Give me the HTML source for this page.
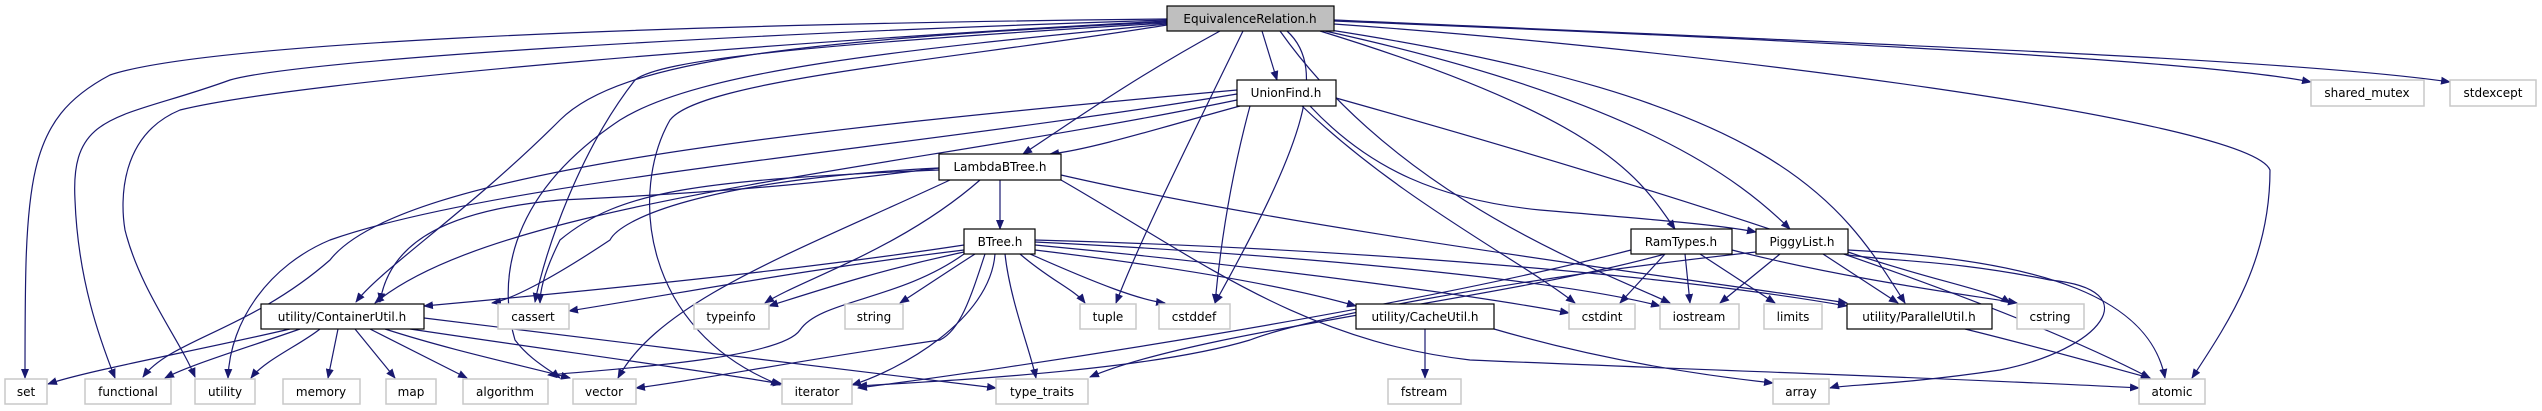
<!DOCTYPE html>
<html><head><meta charset="utf-8"><style>
html,body{margin:0;padding:0;background:#fff;}
svg{display:block;}
text{font-family:"DejaVu Sans","Liberation Sans",sans-serif;font-size:12px;fill:#000;text-anchor:middle;}
.e{fill:none;stroke:#191970;stroke-width:1.2;marker-end:url(#a);}
.g{fill:#fff;stroke:#c8c8c8;stroke-width:1.5;}
.p{fill:#fff;stroke:#000;stroke-width:1.2;}
</style></head><body>
<svg width="2542" height="411" viewBox="0 0 2542 411" xmlns="http://www.w3.org/2000/svg">
<defs><marker id="a" markerWidth="10" markerHeight="8" refX="9" refY="4" orient="auto" markerUnits="userSpaceOnUse"><path d="M0,0 L10,4 L0,8 z" fill="#191970"/></marker></defs>
<g>
<!-- EquivalenceRelation edges -->
<path class="e" d="M1167,19 C600,25 200,45 110,75 C25,120 25,180 25,378"/>
<path class="e" d="M1167,20 C700,35 300,60 230,80 C120,120 70,110 75,200 C78,280 100,340 115,378"/>
<path class="e" d="M1167,21 C800,40 300,80 180,110 C120,135 120,200 125,230 C140,290 180,340 195,377"/>
<path class="e" d="M1167,22 C800,40 620,60 560,120 C470,210 380,270 356,302"/>
<path class="e" d="M1167,23 C800,45 660,60 635,80 C580,150 545,250 535,302"/>
<path class="e" d="M1167,24 C900,50 700,70 620,120 C500,200 500,290 515,340 C530,360 550,370 560,378"/>
<path class="e" d="M1167,25 C950,60 700,80 670,120 C630,190 640,330 780,385"/>
<path class="e" d="M1220,31 C1130,80 1060,130 1023,154"/>
<path class="e" d="M1243,31 C1190,140 1140,240 1116,303"/>
<path class="e" d="M1262,31 L1277,80"/>
<path class="e" d="M1287,31 C1330,70 1300,150 1215,303"/>
<path class="e" d="M1280,31 C1400,200 1600,270 1670,303"/>
<path class="e" d="M1320,31 C1610,120 1640,180 1675,229"/>
<path class="e" d="M1325,31 C1640,100 1740,180 1790,229"/>
<path class="e" d="M1330,30 C1780,100 1840,200 1905,303"/>
<path class="e" d="M1334,24 C1700,50 2250,120 2270,170 C2270,260 2230,320 2192,378"/>
<path class="e" d="M1334,21 C1800,40 2200,60 2311,82"/>
<path class="e" d="M1334,20 C1900,45 2300,60 2450,82"/>
<!-- UnionFind -->
<path class="e" d="M1240,106 C1170,125 1090,150 1050,154"/>
<path class="e" d="M1237,94 C900,150 500,180 330,240 C270,265 230,320 228,378"/>
<path class="e" d="M1237,90 C800,130 400,170 330,260 C250,330 170,340 143,377"/>
<path class="e" d="M1237,100 C900,170 500,200 375,303"/>
<path class="e" d="M1250,106 C1230,180 1220,250 1215,303"/>
<path class="e" d="M1302,106 C1400,200 1520,260 1575,303"/>
<path class="e" d="M1310,106 C1370,170 1440,200 1540,210 C1660,220 1720,225 1756,232"/>
<path class="e" d="M1336,98 C1700,200 2000,300 2150,378"/>
<!-- LambdaBTree -->
<path class="e" d="M1000,180 L1000,229"/>
<path class="e" d="M939,170 C700,180 620,190 560,240 C545,270 540,290 540,303"/>
<path class="e" d="M939,168 C700,180 620,220 610,240 C550,280 510,300 492,303"/>
<path class="e" d="M939,168 C880,175 780,190 560,200 C450,210 390,240 380,302"/>
<path class="e" d="M980,180 C900,250 800,280 765,303"/>
<path class="e" d="M950,180 C800,250 660,300 618,378"/>
<path class="e" d="M1061,175 C1300,230 1700,280 1847,303"/>
<path class="e" d="M1061,180 C1200,260 1300,340 1470,360 C1700,370 2000,380 2139,388"/>
<!-- BTree -->
<path class="e" d="M964,245 C800,270 600,290 424,306"/>
<path class="e" d="M964,250 C800,270 700,290 569,311"/>
<path class="e" d="M964,252 C880,270 820,290 769,306"/>
<path class="e" d="M975,254 C950,270 920,290 900,303"/>
<path class="e" d="M964,254 C900,300 820,300 800,330 C780,360 600,370 548,375"/>
<path class="e" d="M985,254 C970,300 960,330 940,340 C800,360 700,380 636,388"/>
<path class="e" d="M995,254 C990,320 900,370 852,385"/>
<path class="e" d="M1005,254 C1010,300 1030,350 1036,378"/>
<path class="e" d="M1020,254 C1050,280 1075,290 1085,303"/>
<path class="e" d="M1030,254 C1100,285 1140,300 1165,303"/>
<path class="e" d="M1035,245 C1300,270 1500,300 1569,313"/>
<path class="e" d="M1035,242 C1300,255 1560,280 1660,306"/>
<path class="e" d="M1035,240 C1400,250 1700,280 1847,306"/>
<path class="e" d="M1035,250 C1200,270 1300,290 1356,306"/>
<!-- ContainerUtil -->
<path class="e" d="M290,329 C200,350 90,370 48,384"/>
<path class="e" d="M300,329 C240,350 190,365 165,378"/>
<path class="e" d="M320,329 C300,345 265,360 251,378"/>
<path class="e" d="M338,329 L328,378"/>
<path class="e" d="M355,329 L395,378"/>
<path class="e" d="M370,329 L467,378"/>
<path class="e" d="M385,329 C450,350 520,365 570,378"/>
<path class="e" d="M410,329 C550,350 700,370 782,384"/>
<path class="e" d="M424,318 C600,340 850,370 996,388"/>
<!-- RamTypes -->
<path class="e" d="M1631,250 C1400,310 1000,370 858,388"/>
<path class="e" d="M1665,254 C1500,300 1200,330 1090,377"/>
<path class="e" d="M1665,254 L1620,303"/>
<path class="e" d="M1685,254 L1690,303"/>
<path class="e" d="M1700,254 L1775,303"/>
<path class="e" d="M1732,250 C1850,280 1970,295 2017,303"/>
<!-- PiggyList -->
<path class="e" d="M1756,252 C1500,280 1300,320 1250,340 C1150,370 960,380 858,386"/>
<path class="e" d="M1780,254 L1720,303"/>
<path class="e" d="M1823,254 L1898,303"/>
<path class="e" d="M1848,252 C1930,280 1990,290 2010,303"/>
<path class="e" d="M1848,250 C2050,260 2150,300 2165,378"/>
<path class="e" d="M1848,255 C1900,262 1950,260 2050,280 C2150,290 2100,350 2000,370 C1900,385 1840,385 1830,388"/>
<!-- CacheUtil / ParallelUtil -->
<path class="e" d="M1425,329 L1425,378"/>
<path class="e" d="M1494,329 C1600,360 1700,375 1773,383"/>
<path class="e" d="M1965,329 C2050,350 2120,370 2150,378"/>
</g>
<!-- nodes -->
<rect x="1167" y="6" width="167" height="25" fill="#bfbfbf" stroke="#000" stroke-width="1.2"/><text x="1250" y="23">EquivalenceRelation.h</text>
<rect class="p" x="1237" y="80" width="99" height="26"/><text x="1286" y="97">UnionFind.h</text>
<rect class="p" x="939" y="154" width="122" height="26"/><text x="1000" y="171">LambdaBTree.h</text>
<rect class="p" x="964" y="229" width="71" height="25"/><text x="1000" y="246">BTree.h</text>
<rect class="p" x="1631" y="229" width="101" height="25"/><text x="1681" y="246">RamTypes.h</text>
<rect class="p" x="1756" y="229" width="92" height="25"/><text x="1802" y="246">PiggyList.h</text>
<rect class="p" x="261" y="304" width="163" height="25"/><text x="342" y="321">utility/ContainerUtil.h</text>
<rect class="p" x="1356" y="304" width="138" height="25"/><text x="1425" y="321">utility/CacheUtil.h</text>
<rect class="p" x="1847" y="304" width="145" height="25"/><text x="1919" y="321">utility/ParallelUtil.h</text>
<rect class="g" x="498" y="304" width="71" height="25"/><text x="533" y="321">cassert</text>
<rect class="g" x="694" y="304" width="75" height="25"/><text x="731" y="321">typeinfo</text>
<rect class="g" x="845" y="304" width="58" height="25"/><text x="874" y="321">string</text>
<rect class="g" x="1080" y="304" width="56" height="25"/><text x="1108" y="321">tuple</text>
<rect class="g" x="1159" y="304" width="71" height="25"/><text x="1194" y="321">cstddef</text>
<rect class="g" x="1569" y="304" width="66" height="25"/><text x="1602" y="321">cstdint</text>
<rect class="g" x="1660" y="304" width="79" height="25"/><text x="1699" y="321">iostream</text>
<rect class="g" x="1764" y="304" width="58" height="25"/><text x="1793" y="321">limits</text>
<rect class="g" x="2017" y="304" width="67" height="25"/><text x="2050" y="321">cstring</text>
<rect class="g" x="2311" y="80" width="113" height="26"/><text x="2367" y="97">shared_mutex</text>
<rect class="g" x="2450" y="80" width="86" height="26"/><text x="2493" y="97">stdexcept</text>
<rect class="g" x="5" y="379" width="42" height="25"/><text x="26" y="396">set</text>
<rect class="g" x="85" y="379" width="86" height="25"/><text x="128" y="396">functional</text>
<rect class="g" x="195" y="379" width="60" height="25"/><text x="225" y="396">utility</text>
<rect class="g" x="283" y="379" width="77" height="25"/><text x="321" y="396">memory</text>
<rect class="g" x="386" y="379" width="50" height="25"/><text x="411" y="396">map</text>
<rect class="g" x="463" y="379" width="85" height="25"/><text x="505" y="396">algorithm</text>
<rect class="g" x="573" y="379" width="63" height="25"/><text x="604" y="396">vector</text>
<rect class="g" x="782" y="379" width="70" height="25"/><text x="817" y="396">iterator</text>
<rect class="g" x="996" y="379" width="92" height="25"/><text x="1042" y="396">type_traits</text>
<rect class="g" x="1388" y="379" width="73" height="25"/><text x="1424" y="396">fstream</text>
<rect class="g" x="1773" y="379" width="56" height="25"/><text x="1801" y="396">array</text>
<rect class="g" x="2139" y="379" width="66" height="25"/><text x="2172" y="396">atomic</text>
</svg>
</body></html>
